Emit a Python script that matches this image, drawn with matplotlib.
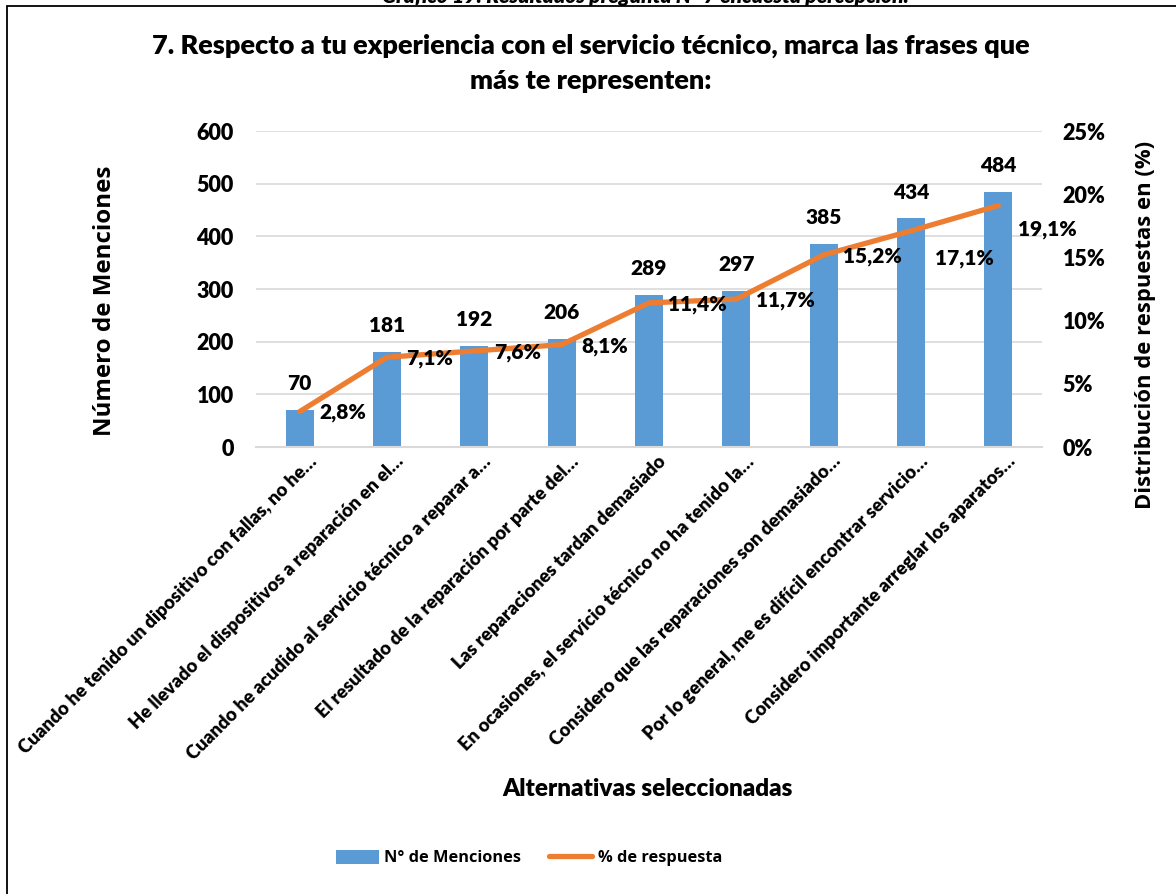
import matplotlib
matplotlib.use("Agg")
import matplotlib.pyplot as plt
from matplotlib.patches import Rectangle
from matplotlib.ticker import FuncFormatter
from matplotlib.transforms import ScaledTranslation

categorias = [
    "Cuando he tenido un dipositivo con fallas, no he…",
    "He llevado el dispositivos a reparación en el…",
    "Cuando he acudido al servicio técnico a reparar a…",
    "El resultado de la reparación por parte del…",
    "Las reparaciones tardan demasiado",
    "En ocasiones, el servicio técnico no ha tenido la…",
    "Considero que las reparaciones son demasiado…",
    "Por lo general, me es difícil encontrar servicio…",
    "Considero importante arreglar los aparatos…",
]
menciones = [70, 181, 192, 206, 289, 297, 385, 434, 484]
porcentaje = [2.8, 7.1, 7.6, 8.1, 11.4, 11.7, 15.2, 17.1, 19.1]
etiquetas_pct = ["2,8%", "7,1%", "7,6%", "8,1%", "11,4%", "11,7%", "15,2%", "17,1%", "19,1%"]

azul = "#5b9bd5"
naranja = "#ed7d31"
f_cal = ["Lato", "DejaVu Sans"]
f_cond = ["Open Sans", "DejaVu Sans"]
peso = "heavy"

fig = plt.figure(figsize=(11.76, 8.94), dpi=100)
ax = fig.add_axes([256 / 1176, 0.5, 786 / 1176, 316 / 894])
ax2 = ax.twinx()

x = range(len(categorias))
barras = ax.bar(x, menciones, width=0.32, color=azul, zorder=2, label="N° de Menciones")
linea, = ax2.plot(x, porcentaje, color=naranja, lw=3.8, solid_capstyle="round",
                  solid_joinstyle="round", zorder=3, label="% de respuesta")

ax.set_xlim(-0.5, len(categorias) - 0.5)
ax.set_ylim(0, 600)
ax2.set_ylim(0, 25)
ax.set_yticks(range(0, 601, 100))
ax2.set_yticks(range(0, 26, 5))
ax2.yaxis.set_major_formatter(FuncFormatter(lambda v, p: f"{int(v)}%"))

ax.grid(axis="y", color="#d9d9d9", lw=1.2, zorder=0)
ax.set_axisbelow(True)
for a in (ax, ax2):
    for s in a.spines.values():
        s.set_visible(False)
    a.tick_params(length=0)
ax.spines["bottom"].set_visible(True)
ax.spines["bottom"].set_color("#d9d9d9")
ax.spines["bottom"].set_linewidth(1.5)

for lab in ax.get_yticklabels() + ax2.get_yticklabels():
    lab.set_fontfamily(f_cal)
    lab.set_fontweight(peso)
    lab.set_fontsize(15.5)
ax.tick_params(axis="y", pad=16)
ax2.tick_params(axis="y", pad=15)

ax.set_xticks(list(x))
ax.set_xticklabels(categorias, rotation=45, ha="right", va="top", rotation_mode="anchor",
                   fontfamily=f_cal, fontweight=peso, fontsize=13.3)
ax.tick_params(axis="x", pad=4)
desplaza = ScaledTranslation(0.08, 0.0, fig.dpi_scale_trans)
for lab in ax.get_xticklabels():
    lab.set_transform(lab.get_transform() + desplaza)

for i, v in enumerate(menciones):
    ax.annotate(str(v), (i, v), xytext=(0, 19), textcoords="offset points",
                ha="center", va="center", fontfamily=f_cal, fontweight=peso, fontsize=15)

# las dos últimas etiquetas van algo más abajo, como en el original
ajuste_y = {7: -19, 8: -16}
for i, v in enumerate(porcentaje):
    dx = 17 if i == 7 else 14
    ax2.annotate(etiquetas_pct[i], (i, v), xytext=(dx, -1 + ajuste_y.get(i, 0)),
                 textcoords="offset points", ha="left", va="center",
                 fontfamily=f_cal, fontweight=peso, fontsize=15)

fig.text(591 / 1176, 1 - 54 / 894,
         "7. Respecto a tu experiencia con el servicio técnico, marca las frases que",
         ha="center", va="baseline", fontfamily=f_cal, fontweight=peso, fontsize=19.5)
fig.text(591 / 1176, 1 - 89 / 894, "más te representen:",
         ha="center", va="baseline", fontfamily=f_cal, fontweight=peso, fontsize=19.5)

fig.text(105 / 1176, 1 - 301 / 894, "Número de Menciones", rotation=90, ha="center", va="center",
         fontfamily=f_cond, fontweight="bold", fontsize=17.4)
fig.text(1146 / 1176, 1 - 325 / 894, "Distribución de respuestas en (%)", rotation=90, ha="center",
         va="center", fontfamily=f_cond, fontweight="bold", fontsize=15.8)
fig.text(648 / 1176, 1 - 789 / 894, "Alternativas seleccionadas", ha="center", va="center",
         fontfamily=f_cal, fontweight=peso, fontsize=17.5)

fig.legend(handles=[barras, linea], loc="center", bbox_to_anchor=(529 / 1176, 1 - 858 / 894),
           ncol=2, frameon=False, prop={"family": f_cond, "weight": "bold", "size": 11.8},
           handlelength=2.6, handleheight=1.0, columnspacing=1.7, handletextpad=0.35)

fig.text(645 / 1176, 1 - 3 / 894, "Gráfico 19: Resultados pregunta N° 7 encuesta percepción.",
         ha="center", va="baseline", fontfamily=f_cal, fontweight=peso, style="italic", fontsize=15)

fig.add_artist(Rectangle((7 / 1176, -0.05), 1.2, 1.05 - 6 / 894, transform=fig.transFigure,
                         fill=False, edgecolor="black", lw=1.3))

fig.savefig("out.png", dpi=100, facecolor="white")
